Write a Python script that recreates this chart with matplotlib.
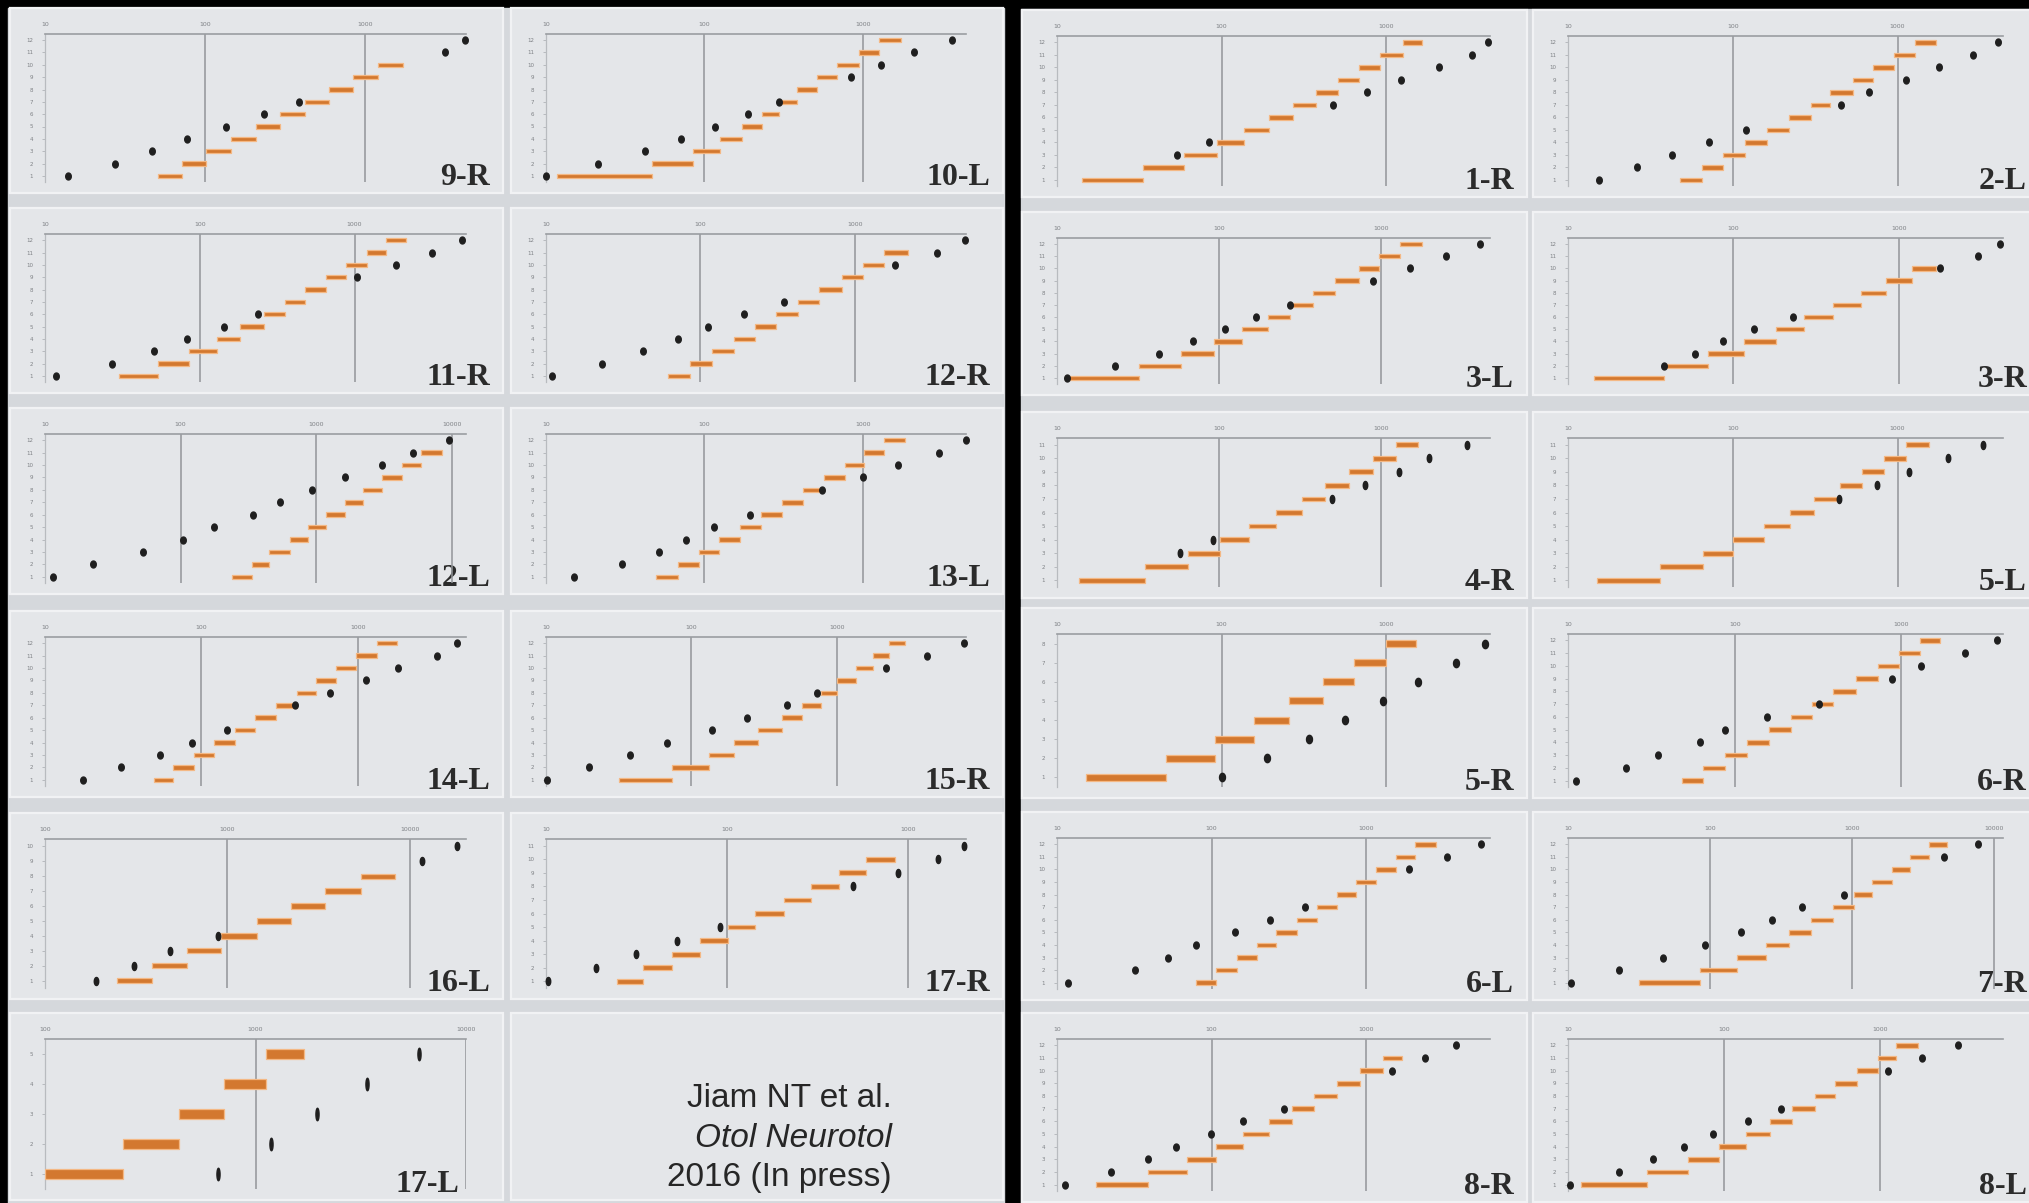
import numpy as np
import matplotlib
matplotlib.use("Agg")
import matplotlib.pyplot as plt
from matplotlib.patches import Rectangle
from matplotlib.ticker import NullLocator

# ---------------------------------------------------------------------------
# Data: per ear, the frequency-allocation band edges (one bar per electrode,
# electrode 1 upward, contiguous bands) and the place frequency of each
# electrode (None = no value shown).
# ---------------------------------------------------------------------------
edges_9R = [51, 72, 101, 145, 208, 297, 422, 598, 849, 1216, 1726]
dots_9R = [14.0, 27.3, 46.8, 76.9, 135, 236, 386, None, None, None, 3190, 4210]

edges_10L = [11.8, 46.9, 84.5, 126, 173, 230, 295, 385, 512, 690, 940, 1268, 1726]
dots_10L = [10.0, 21.4, 42.2, 71.3, 116, 188, 294, None, 841, 1297, 2094, 3664]

edges_11R = [29.9, 53.6, 85.7, 130, 181, 261, 355, 482, 650, 883, 1199, 1600, 2153]
dots_11R = [11.8, 27.1, 50.6, 82.6, 143, 237, None, None, 1040, 1849, 3162, 4966]

edges_12R = [61.9, 85.0, 118, 165, 226, 310, 430, 590, 826, 1122, 1556, 2218]
dots_12R = [11.0, 23.0, 42.2, 71.5, 112, 192, 348, None, None, 1830, 3414, 5207]

edges_12L = [238, 334, 449, 638, 867, 1178, 1622, 2203, 3060, 4254, 5902, 8394]
dots_12L = [11.4, 22.5, 52.9, 104, 177, 341, 541, 935, 1637, 3060, 5178, 9465]

edges_13L = [49.4, 68.1, 92.7, 124, 168, 229, 309, 417, 569, 769, 1019, 1365, 1841]
dots_13L = [15.0, 30.0, 51.8, 76.9, 115, 193, None, 553, 1000, 1676, 3034, 4498]

edges_14L = [49.5, 66.1, 89.0, 121, 163, 221, 298, 406, 536, 722, 972, 1321, 1782]
dots_14L = [17.5, 30.5, 54.3, 86.5, 146, None, 394, 658, 1117, 1798, 3199, 4306]

edges_15R = [31.7, 74.1, 133, 198, 288, 419, 573, 776, 1000, 1355, 1782, 2291, 2951]
dots_15R = [10.2, 19.7, 38.0, 67.7, 139, 243, 454, 738, None, 2178, 4210, 7568]

edges_16L = [247, 387, 601, 920, 1452, 2239, 3451, 5408, 8337]
dots_16L = [191, 308, 483, 891, None, None, None, None, 11700, 18323]

edges_17R = [24.6, 34.2, 49.4, 71.0, 101, 142, 206, 292, 416, 587, 849]
dots_17R = [10.3, 18.8, 31.3, 53.2, 91.4, None, None, 499, 885, 1469, 2042]

edges_17L = [100, 236, 432, 709, 1122, 1702]
dots_17L = [665, 1183, 1950, 3373, 5998]

edges_1R = [14.2, 33.5, 58.9, 93.3, 137, 195, 273, 373, 509, 686, 920, 1256, 1652]
dots_1R = [None, None, 53.3, 84.2, None, None, 475, 767, 1222, 2104, 3319, 4130]

edges_2L = [48.0, 65.0, 86.9, 119, 162, 219, 298, 390, 535, 714, 955, 1271, 1706]
dots_2L = [15.4, 26.1, 42.7, 71.4, 121, None, 454, 675, 1119, 1786, 2878, 4090]

edges_3L = [11.2, 31.9, 58.1, 92.9, 138, 200, 275, 380, 515, 724, 973, 1306, 1770]
dots_3L = [11.5, 22.9, 42.5, 69.2, 109, 169, 275, None, 887, 1500, 2512, 4055]

edges_3R = [14.3, 38.0, 69.8, 116, 181, 268, 400, 590, 834, 1199, 1679]
dots_3R = [None, 38.0, 58.8, 86.1, 133, 230, None, None, None, 1774, 3027, 4083]

edges_4R = [13.7, 35.0, 64.3, 101, 153, 223, 322, 449, 631, 887, 1225, 1690]
dots_4R = [None, None, 57.5, 91.2, None, None, 497, 794, 1282, 1977, 3373]

edges_5L = [15.1, 36.3, 65.6, 101, 155, 223, 313, 446, 607, 826, 1125, 1545]
dots_5L = [None, None, None, None, None, None, 442, 748, 1178, 2032, 3319]

edges_5R = [14.9, 46.0, 91.4, 158, 258, 413, 640, 1000, 1521]
dots_5R = [100, 190, 340, 560, 957, 1563, 2667, 3990]

edges_6R = [48.4, 64.3, 86.9, 118, 161, 218, 289, 391, 533, 726, 973, 1291, 1698]
dots_6R = [11.2, 22.3, 34.9, 61.9, 86.9, 157, 320, None, 873, 1315, 2421, 3750]

edges_6L = [79.1, 107, 146, 196, 262, 359, 481, 644, 863, 1159, 1567, 2080, 2838]
dots_6L = [11.8, 31.9, 52.0, 79.1, 142, 238, 404, None, None, 1884, 3319, 5521]

edges_7R = [31.5, 85.3, 155, 247, 361, 518, 735, 1042, 1390, 1910, 2570, 3499, 4710]
dots_7R = [10.5, 22.9, 46.6, 92.9, 166, 274, 442, 881, None, None, 4467, 7745]

edges_8R = [17.9, 39.0, 69.0, 107, 160, 235, 330, 457, 647, 908, 1274, 1702]
dots_8R = [11.2, 22.5, 38.6, 59.0, 98.6, 160, 294, None, None, 1472, 2382, 3793]

edges_8L = [12.1, 32.1, 58.9, 93.5, 139, 198, 272, 382, 519, 714, 971, 1274, 1750]
dots_8L = [10.3, 21.2, 35.3, 55.6, 85.7, 142, 231, None, None, 1122, 1871, 3177]

# axis ticks (decades) and upper x limit of each panel
ticks_std = [10, 100, 1000]
ticks_wide = [10, 100, 1000, 10000]
ticks_high = [100, 1000, 10000]

panels = [
    ("9-R", edges_9R, dots_9R, ticks_std, 4300),
    ("10-L", edges_10L, dots_10L, ticks_std, 4470),
    ("11-R", edges_11R, dots_11R, ticks_std, 5250),
    ("12-R", edges_12R, dots_12R, ticks_std, 5250),
    ("12-L", edges_12L, dots_12L, ticks_wide, 12700),
    ("13-L", edges_13L, dots_13L, ticks_std, 4470),
    ("14-L", edges_14L, dots_14L, ticks_std, 4900),
    ("15-R", edges_15R, dots_15R, ticks_std, 7760),
    ("16-L", edges_16L, dots_16L, ticks_high, 20400),
    ("17-R", edges_17R, dots_17R, ticks_std, 2090),
    ("17-L", edges_17L, dots_17L, ticks_high, 10000),
    ("1-R", edges_1R, dots_1R, ticks_std, 4270),
    ("2-L", edges_2L, dots_2L, ticks_std, 4365),
    ("3-L", edges_3L, dots_3L, ticks_std, 4680),
    ("3-R", edges_3R, dots_3R, ticks_std, 4270),
    ("4-R", edges_4R, dots_4R, ticks_std, 4680),
    ("5-L", edges_5L, dots_5L, ticks_std, 4365),
    ("5-R", edges_5R, dots_5R, ticks_std, 4270),
    ("6-R", edges_6R, dots_6R, ticks_std, 4070),
    ("6-L", edges_6L, dots_6L, ticks_std, 6310),
    ("7-R", edges_7R, dots_7R, ticks_wide, 11600),
    ("8-R", edges_8R, dots_8R, ticks_std, 6310),
    ("8-L", edges_8L, dots_8L, ticks_std, 6170),
]

# ---------------------------------------------------------------------------
# Layout (pixel coordinates, origin top-left)
# ---------------------------------------------------------------------------
W, H, DPI = 2029, 1203, 100
cols = {"A": (10, 503), "B": (511, 1003), "C": (1022, 1527), "D": (1533, 2040)}
rows_left = [(8, 193), (208, 393), (408, 594), (611, 797), (813, 999), (1013, 1200)]
rows_right = [(10, 197), (212, 395), (412, 598), (608, 798), (812, 1000), (1013, 1202)]
slots = {
    "9-R": ("A", 0), "10-L": ("B", 0), "11-R": ("A", 1), "12-R": ("B", 1),
    "12-L": ("A", 2), "13-L": ("B", 2), "14-L": ("A", 3), "15-R": ("B", 3),
    "16-L": ("A", 4), "17-R": ("B", 4), "17-L": ("A", 5),
    "1-R": ("C", 0), "2-L": ("D", 0), "3-L": ("C", 1), "3-R": ("D", 1),
    "4-R": ("C", 2), "5-L": ("D", 2), "5-R": ("C", 3), "6-R": ("D", 3),
    "6-L": ("C", 4), "7-R": ("D", 4), "8-R": ("C", 5), "8-L": ("D", 5),
}
label_margin = {"17-L": 44}

BAR_FACE = "#d3782f"
BAR_EDGE = "#f4b884"
DOT = "#1f1f1f"
PANEL = "#e4e6e9"
GAP = "#d5d8dc"


def box(x0, y0, x1, y1):
    return [x0 / W, 1 - y1 / H, (x1 - x0) / W, (y1 - y0) / H]


def ellipse(aspect):
    t = np.linspace(0, 2 * np.pi, 40)
    return np.column_stack([np.cos(t) / aspect, np.sin(t)])


fig = plt.figure(figsize=(W / DPI, H / DPI), dpi=DPI, facecolor="black")
bg = fig.add_axes([0, 0, 1, 1])
bg.set_xlim(0, W)
bg.set_ylim(H, 0)
bg.axis("off")
bg.add_patch(Rectangle((8, 8), 996, H - 8, color=GAP))
bg.add_patch(Rectangle((1021, 9), W - 1021, H - 9, color=GAP))


def panel_box(col, row):
    x0, x1 = cols[col]
    rows = rows_left if col in "AB" else rows_right
    y0, y1 = rows[row]
    return x0, y0, x1, y1


def draw_panel_frame(x0, y0, x1, y1):
    bg.add_patch(Rectangle((x0, y0), x1 - x0, y1 - y0, facecolor=PANEL,
                           edgecolor="#f1f2f4", lw=1.6))


for name, edges, dots, ticks, xmax in panels:
    x0, y0, x1, y1 = panel_box(*slots[name])
    draw_panel_frame(x0, y0, x1, y1)
    n = len(dots)

    ax = fig.add_axes(box(x0 + 35, y0 + 26, x1 - 37, y1 - 11))
    ax.set_xscale("log")
    ax.set_xlim(ticks[0], xmax)
    ax.set_ylim(0.5, n + 0.5)
    ax.patch.set_alpha(0)
    for s in ("bottom", "right"):
        ax.spines[s].set_visible(False)
    ax.spines["top"].set_color("#9a9da1")
    ax.spines["top"].set_linewidth(1.2)
    ax.spines["left"].set_color("#b8bbbf")
    ax.spines["left"].set_linewidth(0.9)

    ax.xaxis.set_ticks_position("top")
    ax.set_xticks(ticks)
    ax.set_xticklabels([str(t) for t in ticks])
    ax.xaxis.set_minor_locator(NullLocator())
    ax.tick_params(axis="x", length=0, pad=5, labelsize=4.5, labelcolor="#7e8185")
    ax.set_yticks(range(1, n + 1))
    ax.tick_params(axis="y", length=2.5, width=0.6, color="#b0b3b7",
                   labelsize=4, labelcolor="#7e8185", pad=6)

    for t in ticks[1:]:
        if t <= xmax * 1.001:
            ax.axvline(t, color="#929599", lw=1.1, zorder=1)

    lo = edges[:-1]
    hi = edges[1:]
    bar_rows = list(range(1, len(lo) + 1))
    ax.barh(bar_rows, [h - l for l, h in zip(lo, hi)], left=lo, height=0.36,
            color=BAR_FACE, edgecolor=BAR_EDGE, lw=0.9, zorder=3)

    dot_rows = [i + 1 for i, d in enumerate(dots) if d is not None]
    dot_vals = [d for d in dots if d is not None]
    if name == "17-L":
        mk, ms = ellipse(4.0), 9.0
    elif n == 12:
        mk, ms = ellipse(1.25), 5.0
    elif n == 8:
        mk, ms = ellipse(1.4), 6.0
    else:
        mk, ms = ellipse(1.8), 5.8
    ax.plot(dot_vals, dot_rows, linestyle="none", marker=mk, ms=ms,
            color=DOT, mec=DOT, clip_on=False, zorder=4)

    bg.text(x1 - label_margin.get(name, 13), y1 - 8, name, ha="right",
            va="baseline", fontsize=23, family="Liberation Serif",
            weight="bold", color="#2b2b2b")

# citation panel
x0, y0, x1, y1 = panel_box("B", 5)
draw_panel_frame(x0, y0, x1, y1)
cite = dict(ha="right", va="baseline", fontsize=24, family="Liberation Sans",
            color="#262626")
bg.text(892, 1107, "Jiam NT et al.", **cite)
bg.text(892, 1147, "Otol Neurotol", style="italic", **cite)
bg.text(892, 1186, "2016 (In press)", **cite)

fig.savefig("out.png", dpi=DPI, facecolor="black")
